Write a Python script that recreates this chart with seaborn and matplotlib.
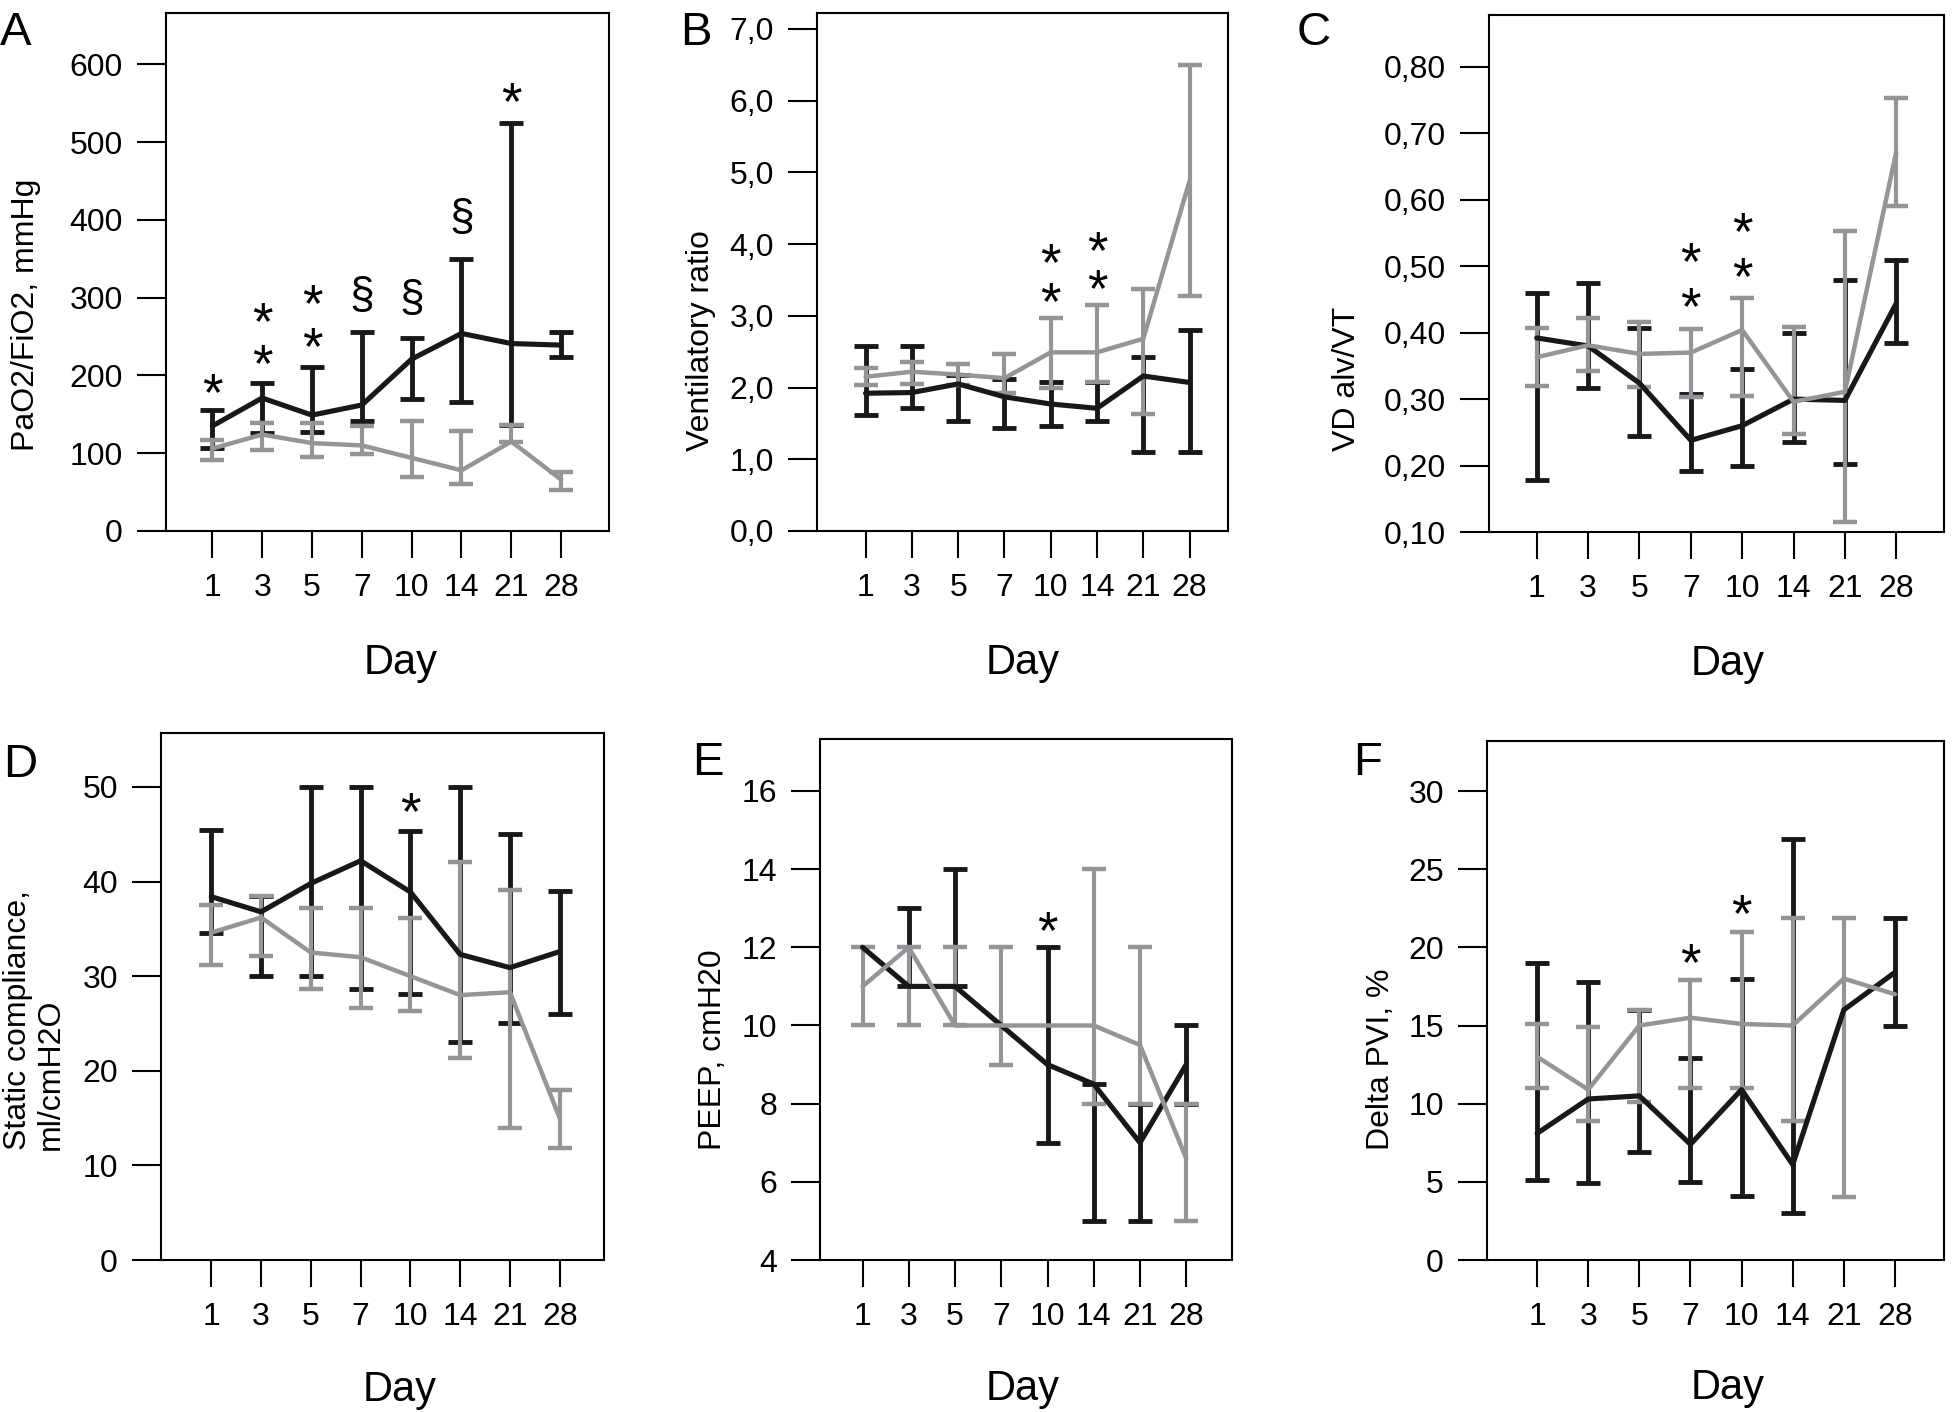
import matplotlib
matplotlib.use("Agg")
import numpy as np
import pandas as pd
import matplotlib.pyplot as plt
import seaborn as sns

# ---------------- data ----------------
days = ["1", "3", "5", "7", "10", "14", "21", "28"]

# Panel A  PaO2/FiO2
a_blk_mean = [135, 171, 149, 162, 221, 254, 241, 239]
a_blk_lo = [107, 126, 127, 141, 170, 166, 136, 224]
a_blk_hi = [155, 190, 211, 256, 248, 350, 524, 256]
a_gry_mean = [106, 124, 113, 110, 94, 78, 115, 66]
a_gry_lo = [91, 104, 95, 99, 69, 61, 115, 53]
a_gry_hi = [117, 139, 139, 135, 142, 128, 136, 76]
a_yticks = [0, 100, 200, 300, 400, 500, 600]
a_yticklabels = ["0", "100", "200", "300", "400", "500", "600"]
a_marks = ["*", "*\n*", "*\n*", "§", "§", "§", "*"]
a_mark_days = ["1", "3", "5", "7", "10", "14", "21"]
a_mark_y = [190, 227, 249, 306, 303, 406, 563]

# Panel B  Ventilatory ratio
b_blk_mean = [1.92, 1.93, 2.05, 1.87, 1.77, 1.71, 2.16, 2.07]
b_blk_lo = [1.62, 1.71, 1.54, 1.44, 1.47, 1.54, 1.10, 1.10]
b_blk_hi = [2.58, 2.58, 2.17, 2.12, 2.07, 2.07, 2.43, 2.80]
b_gry_mean = [2.15, 2.22, 2.18, 2.13, 2.49, 2.49, 2.68, 4.88]
b_gry_lo = [2.04, 2.05, 2.04, 1.93, 1.99, 2.07, 1.63, 3.27]
b_gry_hi = [2.27, 2.36, 2.33, 2.47, 2.97, 3.15, 3.37, 6.50]
b_yticks = [0, 1, 2, 3, 4, 5, 6, 7]
b_yticklabels = ["0,0", "1,0", "2,0", "3,0", "4,0", "5,0", "6,0", "7,0"]
b_marks = ["*\n*", "*\n*"]
b_mark_days = ["10", "14"]
b_mark_y = [3.32, 3.50]

# Panel C  VD alv/VT
c_blk_mean = [0.392, 0.380, 0.324, 0.238, 0.260, 0.300, 0.298, 0.444]
c_blk_lo = [0.179, 0.316, 0.244, 0.192, 0.199, 0.236, 0.202, 0.385]
c_blk_hi = [0.459, 0.474, 0.407, 0.308, 0.345, 0.400, 0.479, 0.510]
c_gry_mean = [0.363, 0.381, 0.368, 0.370, 0.404, 0.296, 0.311, 0.672]
c_gry_lo = [0.320, 0.342, 0.318, 0.303, 0.305, 0.247, 0.115, 0.590]
c_gry_hi = [0.407, 0.422, 0.416, 0.406, 0.452, 0.408, 0.553, 0.753]
c_yticks = [0.1, 0.2, 0.3, 0.4, 0.5, 0.6, 0.7, 0.8]
c_yticklabels = ["0,10", "0,20", "0,30", "0,40", "0,50", "0,60", "0,70", "0,80"]
c_marks = ["*\n*", "*\n*"]
c_mark_days = ["7", "10"]
c_mark_y = [0.453, 0.498]

# Panel D  Static compliance
d_blk_mean = [38.4, 36.8, 39.8, 42.2, 38.9, 32.3, 30.9, 32.6]
d_blk_lo = [34.6, 30.0, 30.0, 28.6, 28.1, 23.0, 25.1, 26.0]
d_blk_hi = [45.4, 38.5, 50.0, 50.0, 45.3, 50.0, 45.0, 39.0]
d_gry_mean = [34.6, 36.2, 32.5, 32.0, 30.0, 28.0, 28.3, 15.0]
d_gry_lo = [31.2, 32.1, 28.6, 26.6, 26.3, 21.4, 14.0, 11.8]
d_gry_hi = [37.5, 38.5, 37.2, 37.2, 36.1, 42.1, 39.1, 18.0]
d_yticks = [0, 10, 20, 30, 40, 50]
d_yticklabels = ["0", "10", "20", "30", "40", "50"]
d_marks = ["*"]
d_mark_days = ["10"]
d_mark_y = [48.3]

# Panel E  PEEP
e_blk_mean = [12.0, 11.0, 11.0, 10.0, 9.0, 8.5, 7.0, 9.0]
e_blk_lo = [12.0, 11.0, 11.0, 10.0, 7.0, 5.0, 5.0, 8.0]
e_blk_hi = [12.0, 13.0, 14.0, 10.0, 12.0, 8.5, 8.0, 10.0]
e_gry_mean = [11.0, 12.0, 10.0, 10.0, 10.0, 10.0, 9.5, 6.6]
e_gry_lo = [10.0, 10.0, 10.0, 9.0, 10.0, 8.0, 8.0, 5.0]
e_gry_hi = [12.0, 12.0, 12.0, 12.0, 10.0, 14.0, 12.0, 8.0]
e_yticks = [4, 6, 8, 10, 12, 14, 16]
e_yticklabels = ["4", "6", "8", "10", "12", "14", "16"]
e_marks = ["*"]
e_mark_days = ["10"]
e_mark_y = [12.65]

# Panel F  Delta PVI
f_blk_mean = [8.1, 10.3, 10.5, 7.4, 10.9, 6.1, 16.0, 18.4]
f_blk_lo = [5.1, 4.9, 6.9, 5.0, 4.1, 3.0, 16.0, 15.0]
f_blk_hi = [19.0, 17.8, 16.0, 12.9, 18.0, 26.9, 16.0, 21.9]
f_gry_mean = [13.0, 10.9, 15.0, 15.5, 15.1, 15.0, 18.0, 17.0]
f_gry_lo = [11.0, 8.9, 10.1, 11.0, 11.0, 8.9, 4.0, 17.0]
f_gry_hi = [15.1, 14.9, 16.0, 17.9, 21.0, 21.9, 21.9, 17.0]
f_yticks = [0, 5, 10, 15, 20, 25, 30]
f_yticklabels = ["0", "5", "10", "15", "20", "25", "30"]
f_marks = ["*", "*"]
f_mark_days = ["7", "10"]
f_mark_y = [19.6, 22.7]

ylabels = ["PaO2/FiO2, mmHg", "Ventilatory ratio", "VD alv/VT",
           "Static compliance,\nml/cmH2O", "PEEP, cmH20", "Delta PVI, %"]
panel_letters = ["A", "B", "C", "D", "E", "F"]

# ---------------- style ----------------
sns.set_theme(style="ticks")
plt.rcParams["font.family"] = ["Liberation Sans", "DejaVu Sans"]

BLACK = "#1a1718"
GRAY = "#939598"
W, H = 1952, 1412
fig = plt.figure(figsize=(W / 100, H / 100), dpi=100)
fig.patch.set_facecolor("white")


def px_rect(l, r, t, b):
    return [l / W, (H - b) / H, (r - l) / W, (b - t) / H]


layout = [
    dict(rect=px_rect(166, 609, 13, 531), xlim=(-0.93, 7.96), ylim=(0, 666),
         ylab=(-0.316, 0.155), xlab=(0.529, -0.276), letter=(0, 45), star_ls=0.80),
    dict(rect=px_rect(817, 1228, 13, 531), xlim=(-1.05, 7.83), ylim=(0, 7.22),
         ylab=(-0.282, 0.155), xlab=(0.501, -0.276), letter=(680, 45), star_ls=0.71),
    dict(rect=px_rect(1489, 1944, 15, 532), xlim=(-0.93, 7.93), ylim=(0.10, 0.878),
         ylab=(-0.312, 0.157), xlab=(0.525, -0.276), letter=(1297, 45), star_ls=0.87),
    dict(rect=px_rect(161, 604, 733, 1260), xlim=(-1.01, 7.89), ylim=(0, 55.7),
         ylab=(-0.286, 0.209), xlab=(0.539, -0.2685), letter=(3, 777), star_ls=1.0),
    dict(rect=px_rect(820, 1232, 739, 1260), xlim=(-0.92, 7.99), ylim=(4, 17.33),
         ylab=(-0.260, 0.211), xlab=(0.492, -0.2685), letter=(692, 775), star_ls=1.0),
    dict(rect=px_rect(1487, 1944, 741, 1260), xlim=(-0.98, 7.96), ylim=(0, 33.2),
         ylab=(-0.232, 0.211), xlab=(0.527, -0.2685), letter=(1353, 775), star_ls=1.0),
]

panels = [
    (a_blk_mean, a_blk_lo, a_blk_hi, a_gry_mean, a_gry_lo, a_gry_hi, a_yticks, a_yticklabels, a_marks, a_mark_days, a_mark_y),
    (b_blk_mean, b_blk_lo, b_blk_hi, b_gry_mean, b_gry_lo, b_gry_hi, b_yticks, b_yticklabels, b_marks, b_mark_days, b_mark_y),
    (c_blk_mean, c_blk_lo, c_blk_hi, c_gry_mean, c_gry_lo, c_gry_hi, c_yticks, c_yticklabels, c_marks, c_mark_days, c_mark_y),
    (d_blk_mean, d_blk_lo, d_blk_hi, d_gry_mean, d_gry_lo, d_gry_hi, d_yticks, d_yticklabels, d_marks, d_mark_days, d_mark_y),
    (e_blk_mean, e_blk_lo, e_blk_hi, e_gry_mean, e_gry_lo, e_gry_hi, e_yticks, e_yticklabels, e_marks, e_mark_days, e_mark_y),
    (f_blk_mean, f_blk_lo, f_blk_hi, f_gry_mean, f_gry_lo, f_gry_hi, f_yticks, f_yticklabels, f_marks, f_mark_days, f_mark_y),
]

pos = np.arange(len(days))
day_pos = {d: i for i, d in enumerate(days)}


def draw_bars(ax, mean, lo, hi, color, lw, capw):
    m = np.asarray(mean, float)
    l = np.asarray(lo, float)
    h = np.asarray(hi, float)
    keep = ~((l == m) & (h == m))
    ax.errorbar(pos[keep], m[keep], yerr=[m[keep] - l[keep], h[keep] - m[keep]],
                fmt="none", ecolor=color, elinewidth=lw, capsize=8.3, capthick=capw,
                zorder=3)


for i, (lay, pan) in enumerate(zip(layout, panels)):
    bm, bl, bh, gm, gl, gh, yt, ytl, marks, mdays, my = pan
    ax = fig.add_axes(lay["rect"])
    ax.set_facecolor("white")

    df_b = pd.DataFrame({"pos": pos, "value": bm})
    df_g = pd.DataFrame({"pos": pos, "value": gm})

    draw_bars(ax, bm, bl, bh, BLACK, 3.5, 3.5)
    sns.lineplot(data=df_b, x="pos", y="value", color=BLACK, linewidth=3.7,
                 ax=ax, sort=False, estimator=None, zorder=4)
    draw_bars(ax, gm, gl, gh, GRAY, 3.0, 3.2)
    sns.lineplot(data=df_g, x="pos", y="value", color=GRAY, linewidth=3.2,
                 ax=ax, sort=False, estimator=None, zorder=5)

    # significance marks: y is the centre of the lowest glyph
    for t, d, yv in zip(marks, mdays, my):
        if t.startswith("*"):
            ax.annotate(t, xy=(day_pos[d], yv), xytext=(0, -19), textcoords="offset points",
                        ha="center", va="baseline", fontsize=38, color="black",
                        linespacing=lay["star_ls"], zorder=6)
        else:
            ax.annotate(t, xy=(day_pos[d], yv), xytext=(0, -11), textcoords="offset points",
                        ha="center", va="baseline", fontsize=32, color="black", zorder=6)

    ax.set_xlim(*lay["xlim"])
    ax.set_ylim(*lay["ylim"])
    ax.set_xticks(pos)
    ax.set_xticklabels(days)
    ax.set_yticks(yt)
    ax.set_yticklabels(ytl)
    ax.tick_params(axis="y", length=21, width=1.5, pad=10, labelsize=23,
                   direction="out", color="black", labelcolor="black")
    ax.tick_params(axis="x", length=19.5, width=1.5, pad=11, labelsize=23,
                   direction="out", color="black", labelcolor="black")
    for sp in ax.spines.values():
        sp.set_visible(True)
        sp.set_linewidth(1.5)
        sp.set_color("black")

    ax.set_ylabel(ylabels[i], fontsize=23, color="black", ha="left", va="center",
                  rotation=90, rotation_mode="anchor", linespacing=1.15)
    ax.yaxis.set_label_coords(*lay["ylab"])
    ax.set_xlabel("Day", fontsize=30, color="black", va="baseline")
    ax.xaxis.set_label_coords(*lay["xlab"])
    ax.grid(False)

    lx, ly = lay["letter"]
    fig.text(lx / W, (H - ly) / H, panel_letters[i], fontsize=34, ha="left",
             va="baseline", color="black")

fig.savefig("out.png", dpi=100, facecolor="white")
